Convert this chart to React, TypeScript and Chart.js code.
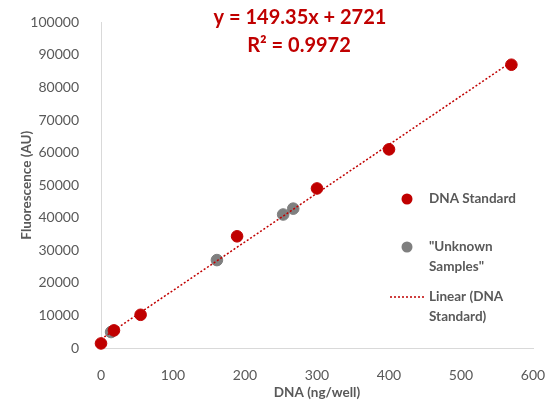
import React, { useEffect, useRef } from "react";
import { Chart, registerables } from "chart.js";

Chart.register(...registerables);

const stdX = [0, 18, 55, 189, 300, 400, 570];
const stdY = [1400, 5400, 10200, 34300, 49000, 61000, 87000];
const unkX = [14, 161, 253, 267];
const unkY = [4900, 27000, 41000, 42800];
const slope = 149.35;
const intercept = 2721;
const trendRange = [0, 570];
const equationLines = ["y = 149.35x + 2721", "R² = 0.9972"];
const legendLabels = [["DNA Standard"], ['"Unknown', 'Samples"'], ["Linear (DNA", "Standard)"]];

const RED = "#C00000";
const GRAY = "#7F7F7F";
const TEXT = "#595959";
const FONT = "Lato, 'Liberation Sans', sans-serif";

export default function App() {
  const ref = useRef<HTMLCanvasElement | null>(null);
  useEffect(() => {
    if (!ref.current) return;
    const overlay = {
      id: "overlay",
      afterDraw(chart: any) {
        const ctx = chart.ctx;
        ctx.save();
        ctx.fillStyle = RED;
        ctx.font = `bold 20px ${FONT}`;
        ctx.textAlign = "center";
        ctx.textBaseline = "middle";
        ctx.fillText(equationLines[0], 300, 18);
        ctx.fillText(equationLines[1], 299, 46);
        ctx.font = `bold 13.5px ${FONT}`;
        ctx.textAlign = "left";
        const rows = [199, 247, 297];
        legendLabels.forEach((lines, i) => {
          lines.forEach((t, j) => {
            ctx.fillStyle = TEXT;
            ctx.fillText(t, 429, rows[i] + j * 20);
          });
        });
        ctx.fillStyle = RED;
        ctx.beginPath();
        ctx.arc(407, rows[0], 5.5, 0, Math.PI * 2);
        ctx.fill();
        ctx.fillStyle = GRAY;
        ctx.beginPath();
        ctx.arc(407, rows[1], 5.5, 0, Math.PI * 2);
        ctx.fill();
        ctx.strokeStyle = RED;
        ctx.lineWidth = 1.5;
        ctx.setLineDash([2, 2]);
        ctx.beginPath();
        ctx.moveTo(390, rows[2]);
        ctx.lineTo(425, rows[2]);
        ctx.stroke();
        ctx.restore();
      },
    };
    const chart = new Chart(ref.current, {
      type: "scatter",
      data: {
        datasets: [
          {
            type: "line",
            label: "Linear (DNA Standard)",
            data: trendRange.map((x) => ({ x, y: slope * x + intercept })),
            borderColor: RED,
            borderWidth: 1.5,
            borderDash: [2, 2],
            pointRadius: 0,
            fill: false,
            clip: false,
            order: 0,
          },
          {
            label: "DNA Standard",
            data: stdX.map((x, i) => ({ x, y: stdY[i] })),
            backgroundColor: RED,
            borderColor: RED,
            pointRadius: 5.8,
            clip: false,
            order: 1,
          },
          {
            label: '"Unknown Samples"',
            data: unkX.map((x, i) => ({ x, y: unkY[i] })),
            backgroundColor: GRAY,
            borderColor: GRAY,
            pointRadius: 5.8,
            clip: false,
            order: 2,
          },
        ],
      },
      options: {
        animation: false,
        responsive: false,
        layout: { padding: { left: 0, top: 16, right: 25, bottom: 0 } },
        plugins: { legend: { display: false }, tooltip: { enabled: false } },
        scales: {
          x: {
            type: "linear",
            min: 0,
            max: 600,
            ticks: { stepSize: 100, color: TEXT, font: { family: FONT, size: 14 }, padding: 11, callback: (v: any) => String(v) },
            grid: { display: false },
            border: { display: true, color: "#D9D9D9", width: 1 },
            title: {
              display: true,
              text: "DNA (ng/well)",
              color: TEXT,
              font: { family: FONT, size: 13.5, weight: "bold" },
              padding: { top: 0, bottom: 3 },
            },
            afterFit: (s: any) => {
              s.height = 56;
            },
          },
          y: {
            min: 0,
            max: 100000,
            ticks: { stepSize: 10000, color: TEXT, font: { family: FONT, size: 14 }, padding: 14, callback: (v: any) => String(v) },
            grid: { display: false },
            border: { display: true, color: "#D9D9D9", width: 1 },
            title: {
              display: true,
              text: "Fluorescence (AU)",
              color: TEXT,
              font: { family: FONT, size: 13.5, weight: "bold" },
              padding: { top: 19, bottom: 0 },
            },
            afterFit: (s: any) => {
              s.width = 101;
            },
          },
        },
      },
      plugins: [overlay],
    });
    return () => chart.destroy();
  }, []);
  return (
    <div style={{ position: "fixed", left: 0, top: 0, width: 558, height: 404, background: "#fff" }}>
      <canvas ref={ref} width={558} height={404} style={{ display: "block" }} />
    </div>
  );
}
